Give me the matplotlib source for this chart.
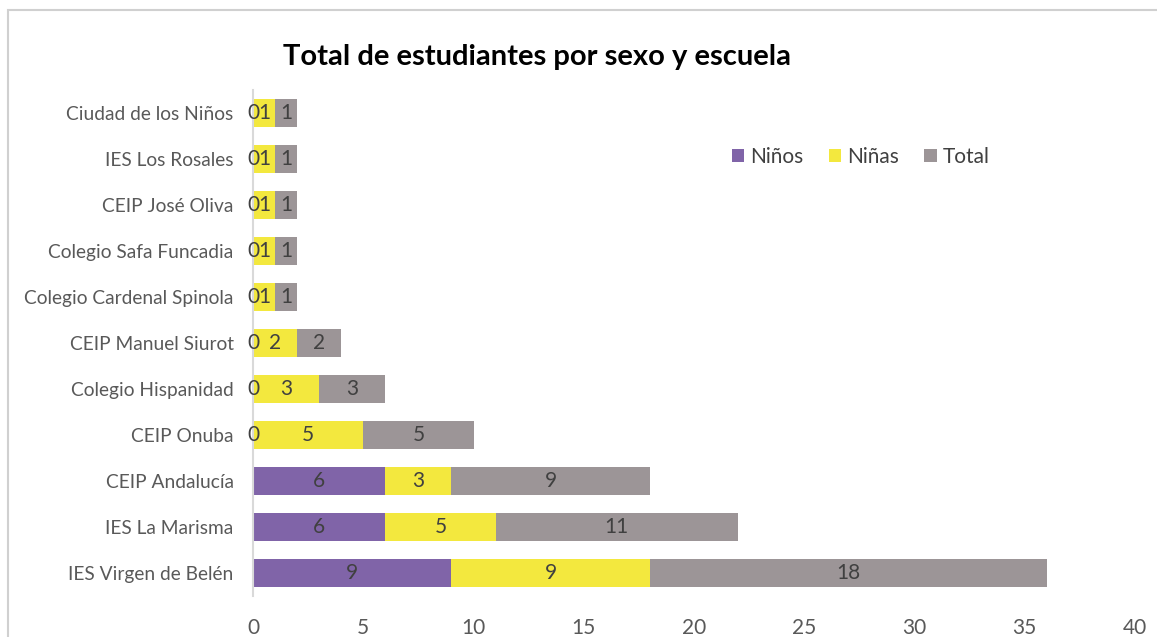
import matplotlib.pyplot as plt
from matplotlib.patches import Rectangle
import numpy as np

# datos
escuelas = ['IES Virgen de Belén', 'IES La Marisma', 'CEIP Andalucía', 'CEIP Onuba',
            'Colegio Hispanidad', 'CEIP Manuel Siurot', 'Colegio Cardenal Spinola',
            'Colegio Safa Funcadia', 'CEIP José Oliva', 'IES Los Rosales', 'Ciudad de los Niños']
ninos = [9, 6, 6, 0, 0, 0, 0, 0, 0, 0, 0]
ninas = [9, 5, 3, 5, 3, 2, 1, 1, 1, 1, 1]
total = [18, 11, 9, 5, 3, 2, 1, 1, 1, 1, 1]

colores = ['#8064a8', '#f3e83e', '#9c9597']
series = [('Niños', ninos), ('Niñas', ninas), ('Total', total)]

plt.rcParams['font.family'] = ['Lato', 'DejaVu Sans']

fig = plt.figure(figsize=(11.57, 6.37), dpi=100)
ax = fig.add_axes([253 / 1157, 1 - 596 / 637, (1135 - 253) / 1157, (596 - 90) / 637])

# marco del grafico
fig.patches.append(Rectangle((8 / 1157, -0.1), 1.2, 1 - 10 / 637 + 0.1,
                             transform=fig.transFigure, fill=False,
                             edgecolor='#d0d0d0', linewidth=1.5))

y = np.arange(len(escuelas))
izq = np.zeros(len(escuelas))
for (nombre, vals), color in zip(series, colores):
    barras = ax.barh(y, vals, left=izq, height=0.59, color=color, label=nombre)
    ax.bar_label(barras, labels=[str(v) for v in vals], label_type='center',
                 fontsize=15, color='#404040')
    izq += np.array(vals)

ax.set_xlim(0, 40)
ax.set_ylim(-0.5, len(escuelas) - 0.5)
ax.set_xticks(range(0, 41, 5))
ax.set_yticks(y)
ax.set_yticklabels(escuelas)
ax.tick_params(axis='x', length=0, labelsize=15, labelcolor='#595959', pad=16)
ax.tick_params(axis='y', length=0, labelsize=13.8, labelcolor='#595959', pad=14)
for s in ['top', 'right', 'bottom']:
    ax.spines[s].set_visible(False)
ax.spines['left'].set_color('#d9d9d9')
ax.spines['left'].set_linewidth(1.5)

fig.text(537 / 1157, 1 - 57 / 637, 'Total de estudiantes por sexo y escuela',
         ha='center', va='center', fontsize=21, fontweight='bold', color='black')

ax.legend(loc='center', bbox_to_anchor=(861 / 1157, 1 - 157 / 637),
          bbox_transform=fig.transFigure, ncol=3, frameon=False, fontsize=15,
          handlelength=0.6, handleheight=0.6, handletextpad=0.3, columnspacing=1.2,
          labelcolor='#404040')

fig.savefig('out.png', dpi=100)
